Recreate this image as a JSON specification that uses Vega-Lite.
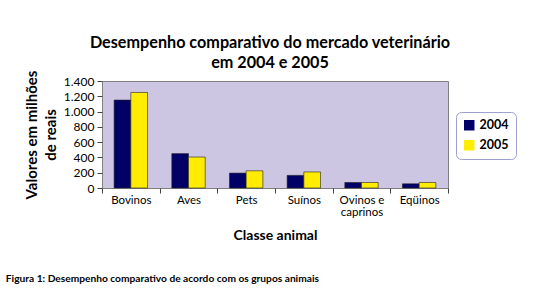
{
  "$schema": "https://vega.github.io/schema/vega-lite/v6.json",
  "autosize": {"type": "pad"},
  "padding": {"left": 5, "top": 34, "right": 0, "bottom": 0},
  "background": "white",
  "title": {
    "text": "Figura 1: Desempenho comparativo de acordo com os grupos animais",
    "orient": "bottom",
    "anchor": "start",
    "frame": "bounds",
    "font": "Lato",
    "fontSize": 10.2,
    "fontWeight": "bold",
    "color": "black",
    "offset": 31,
    "dx": -18
  },
  "data": {
    "values": [
      {"classe": "Bovinos", "ano": "2004", "valor": 1150},
      {"classe": "Bovinos", "ano": "2005", "valor": 1250},
      {"classe": "Aves", "ano": "2004", "valor": 450},
      {"classe": "Aves", "ano": "2005", "valor": 405},
      {"classe": "Pets", "ano": "2004", "valor": 195},
      {"classe": "Pets", "ano": "2005", "valor": 225},
      {"classe": "Suínos", "ano": "2004", "valor": 165},
      {"classe": "Suínos", "ano": "2005", "valor": 210},
      {"classe": "Ovinos e caprinos", "ano": "2004", "valor": 72},
      {"classe": "Ovinos e caprinos", "ano": "2005", "valor": 72},
      {"classe": "Eqüinos", "ano": "2004", "valor": 55},
      {"classe": "Eqüinos", "ano": "2005", "valor": 72}
    ]
  },
  "vconcat": [
    {
      "width": 346,
      "height": 107,
      "title": {
        "text": ["Desempenho comparativo do mercado veterinário", "em 2004 e 2005"],
        "anchor": "middle",
        "font": "Lato",
        "fontSize": 16.2,
        "fontWeight": "bold",
        "lineHeight": 20,
        "color": "black",
        "offset": -1,
        "dx": -5
      },
      "mark": {"type": "bar", "stroke": "#222222", "strokeWidth": 0.6},
      "encoding": {
        "x": {
          "field": "classe",
          "type": "nominal",
          "sort": null,
          "scale": {"paddingInner": 0, "paddingOuter": 0},
          "axis": {
            "title": "Classe animal",
            "titleFont": "Lato",
            "titleFontSize": 14,
            "titleFontWeight": "bold",
            "titleColor": "black",
            "titlePadding": 11,
            "labelAngle": 0,
            "labelFont": "Lato",
            "labelFontSize": 11.5,
            "labelColor": "black",
            "labelPadding": 1,
            "labelLineHeight": 12,
            "labelExpr": "datum.label == 'Ovinos e caprinos' ? ['Ovinos e', 'caprinos'] : datum.label",
            "tickBand": "extent",
            "tickSize": 5,
            "tickColor": "#444444",
            "domain": false
          }
        },
        "xOffset": {
          "field": "ano",
          "type": "nominal",
          "scale": {"paddingInner": 0, "paddingOuter": 0.727}
        },
        "y": {
          "field": "valor",
          "type": "quantitative",
          "scale": {"domain": [0, 1400], "nice": false},
          "axis": {
            "title": ["Valores em milhões", "de reais"],
            "titleFont": "Lato",
            "titleFontSize": 15,
            "titleFontWeight": "bold",
            "titleColor": "black",
            "titleLineHeight": 19,
            "titlePadding": 5,
            "values": [0, 200, 400, 600, 800, 1000, 1200, 1400],
            "format": ",d",
            "labelFont": "Lato",
            "labelFontSize": 12,
            "labelColor": "black",
            "labelPadding": 3,
            "tickSize": 5,
            "tickColor": "#444444",
            "grid": false,
            "domain": false
          }
        },
        "color": {
          "field": "ano",
          "type": "nominal",
          "scale": {"domain": ["2004", "2005"], "range": ["#000066", "#FFEC00"]},
          "legend": {
            "title": null,
            "orient": "none",
            "legendX": 354,
            "legendY": 31,
            "strokeColor": "#a0a0d0",
            "fillColor": "white",
            "cornerRadius": 5,
            "padding": 7,
            "symbolType": "square",
            "symbolSize": 110,
            "symbolStrokeWidth": 0,
            "symbolOpacity": 1,
            "labelFont": "Lato",
            "labelFontSize": 12.5,
            "labelFontWeight": "bold",
            "labelColor": "black",
            "rowPadding": 7
          }
        }
      }
    }
  ],
  "config": {
    "locale": {"number": {"decimal": ",", "thousands": ".", "grouping": [3], "currency": ["R$", ""]}},
    "view": {"fill": "#CCC6E2", "stroke": "#808080", "strokeWidth": 1}
  }
}
